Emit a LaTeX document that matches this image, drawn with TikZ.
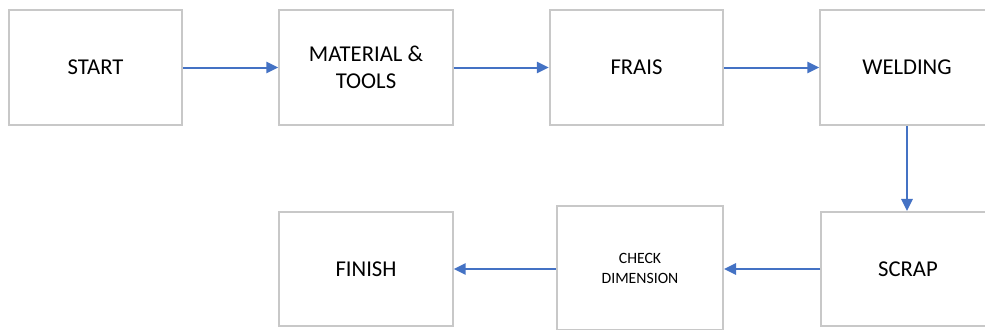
\documentclass[tikz,border=0pt]{standalone}
\usepackage{fontspec}
\setmainfont{Carlito}
\usetikzlibrary{arrows.meta}
\definecolor{boxgray}{RGB}{200,200,200}
\definecolor{arrowblue}{RGB}{68,114,196}
\begin{document}
\begin{tikzpicture}[x=0.75pt,y=-0.75pt,
  box/.style={draw=boxgray,line width=1.6pt,fill=white,inner sep=0pt,align=center,
    minimum width=130pt,minimum height=86pt,font=\fontsize{17}{20.25}\selectfont},
  smallbox/.style={box,font=\fontsize{11.8}{15}\selectfont},
  flow/.style={draw=arrowblue,line width=1.5pt,-{Triangle[length=9pt,width=8.5pt]}}]
\useasboundingbox (0,0) rectangle (985,329);
\begin{scope}
\clip (0,0) rectangle (985,329);
\node[box] (start) at (95.5,67.5) {START};
\node[box] (material) at (366,67.5) {MATERIAL \&\\TOOLS};
\node[box] (frais) at (636.5,67.5) {FRAIS};
\node[box] (welding) at (907,67.5) {WELDING};
\node[box,minimum height=85.5pt] (scrap) at (908,269) {SCRAP};
\node[smallbox,minimum width=124.5pt,minimum height=93pt] (check) at (640,268) {CHECK\\DIMENSION};
\node[box,minimum height=85.5pt] (finish) at (366,269) {FINISH};
\draw[flow] (start.east) -- (material.west);
\draw[flow] (material.east) -- (frais.west);
\draw[flow] (frais.east) -- (welding.west);
\draw[flow] (welding.south -| 907,0) -- (scrap.north -| 907,0);
\draw[flow] (scrap.west) -- (check.east |- scrap.west);
\draw[flow] (check.west |- finish.east) -- (finish.east);
\end{scope}
\end{tikzpicture}
\end{document}
